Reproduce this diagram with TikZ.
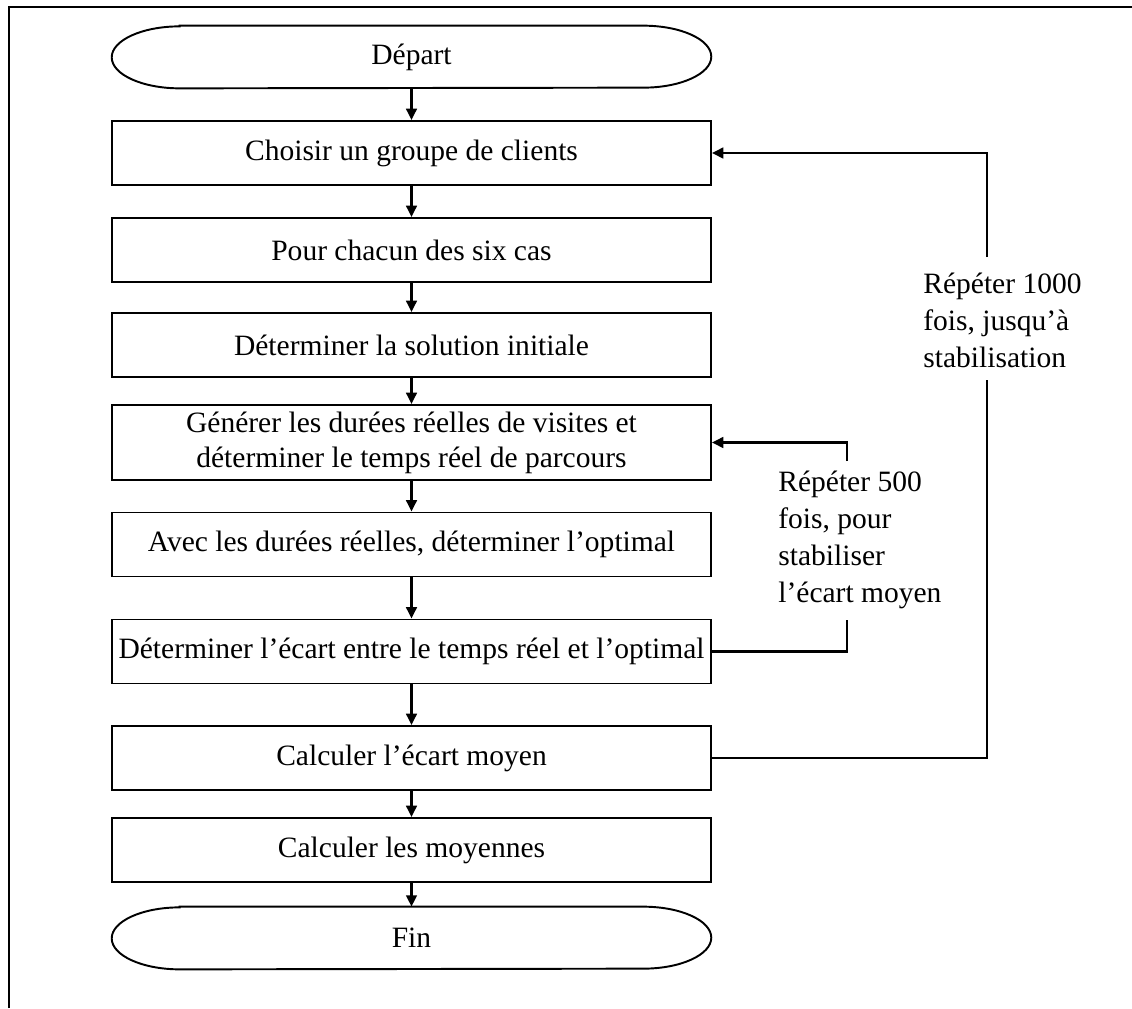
\documentclass[tikz,border=0pt]{standalone}
\usepackage{fontspec}
\setmainfont{Liberation Serif}
\usetikzlibrary{arrows.meta,calc}
% stadium outline drawn round a terminal node
\newcommand\stadiumoutline[1]{%
  \draw[line width=1.1pt]
    ($(#1.north west)+(68,0)$) -- ($(#1.north east)+(-68,0)$)
    arc[start angle=90,end angle=-90,x radius=1.36cm,y radius=0.62cm]
    -- ($(#1.south west)+(68,0)$)
    arc[start angle=270,end angle=90,x radius=1.36cm,y radius=0.62cm]
    -- cycle;}
\begin{document}
\begin{tikzpicture}[x=0.02cm,y=-0.02cm,
  every node/.style={font=\fontsize{16.8pt}{21pt}\selectfont},
  stepbox/.style={draw,line width=1.1pt,minimum width=11.98cm,minimum height=1.28cm,
    inner sep=0pt,align=center},
  term/.style={minimum width=11.98cm,minimum height=1.24cm,inner sep=0pt},
  flow/.style={line width=1.6pt,-{Triangle[length=6.5pt,width=6pt]}},
  back/.style={line width=1.6pt},
  note/.style={align=left,inner sep=0pt,anchor=west}]
\useasboundingbox (0,0) rectangle (1132,1008);
% frame
\draw[line width=1.1pt] (9,1008) -- (9,7) -- (1132,7);

% main column
\node[term] (start) at (411.5,57) {Départ};
\stadiumoutline{start}
\node[stepbox] (b1) at (411.5,153) {Choisir un groupe de clients};
\node[stepbox] (b2) at (411.5,250) {Pour chacun des six cas};
\node[stepbox] (b3) at (411.5,345) {Déterminer la solution initiale};
\node[stepbox,minimum height=1.5cm,font=\fontsize{16.8pt}{20pt}\selectfont] (b4) at (411.5,442.5)
  {Générer les durées réelles de visites et\\déterminer le temps réel de parcours};
\node[stepbox] (b5) at (411.5,544.5) {Avec les durées réelles, déterminer l’optimal};
\node[stepbox] (b6) at (411.5,651.5) {Déterminer l’écart entre le temps réel et l’optimal};
\node[stepbox] (b7) at (411.5,758) {Calculer l’écart moyen};
\node[stepbox] (b8) at (411.5,850) {Calculer les moyennes};
\node[term] (fin) at (411.5,938) {Fin};
\stadiumoutline{fin}

\draw[flow] (start.south) -- (b1.north);
\draw[flow] (b1) -- (b2);
\draw[flow] (b2) -- (b3);
\draw[flow] (b3) -- (b4);
\draw[flow] (b4) -- (b5);
\draw[flow] (b5) -- (b6);
\draw[flow] (b6) -- (b7);
\draw[flow] (b7) -- (b8);
\draw[flow] (b8.south) -- (fin.north);

% inner loop (500 repetitions)
\node[note] (n500) at (778,540) {Répéter 500\\fois, pour\\stabiliser\\l’écart moyen};
\coordinate (g3) at (847,461);
\coordinate (g4) at (847,620);
\draw[back] (b6.east) -| (g4);
\draw[flow] (g3) |- (b4.east);

% outer loop (1000 repetitions)
\node[note] (n1000) at (923,320) {Répéter 1000\\fois, jusqu’à\\stabilisation};
\coordinate (g1) at (987,257);
\coordinate (g2) at (987,380);
\draw[back] (b7.east) -| (g2);
\draw[flow] (g1) |- (b1.east);
\end{tikzpicture}
\end{document}
